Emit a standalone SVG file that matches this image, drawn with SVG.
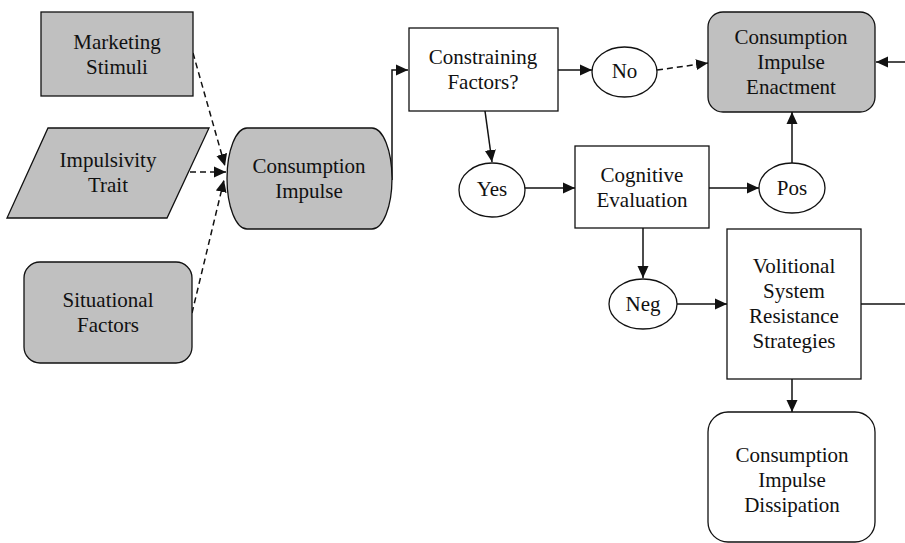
<svg xmlns="http://www.w3.org/2000/svg" width="905" height="543" viewBox="0 0 905 543" font-family="Liberation Serif, Times New Roman, Times, DejaVu Serif, serif">
<style>
text{font-family:"Liberation Serif","Times New Roman",Times,"DejaVu Serif",serif;font-size:21px;fill:#111;text-anchor:middle}
.g{fill:#c0c0c0;stroke:#111;stroke-width:1.3}
.w{fill:#fff;stroke:#111;stroke-width:1.3}
.c{fill:none;stroke:#111;stroke-width:1.5}
.d{stroke-dasharray:6,4}
</style>
<defs>
<marker id="a" markerUnits="userSpaceOnUse" markerWidth="12" markerHeight="12" refX="12" refY="6" orient="auto">
<path d="M0,0.5 L12,6 L0,11.5 Z" fill="#111"/>
</marker>
</defs>
<g id="connectors">
<path class="c d" d="M193,53 L225,166" marker-end="url(#a)"/>
<path class="c d" d="M190,172 L226,172" marker-end="url(#a)"/>
<path class="c d" d="M192,313 L224,180" marker-end="url(#a)"/>
<path class="c" d="M392,180 V70 H408" marker-end="url(#a)"/>
<path class="c" d="M558,70 H592" marker-end="url(#a)"/>
<path class="c d" d="M657,70 L708,63" marker-end="url(#a)"/>
<path class="c" d="M485,111 L492,162" marker-end="url(#a)"/>
<path class="c" d="M525,188 H575" marker-end="url(#a)"/>
<path class="c" d="M709,188 H759" marker-end="url(#a)"/>
<path class="c" d="M792,163 V112" marker-end="url(#a)"/>
<path class="c" d="M643,228 V278" marker-end="url(#a)"/>
<path class="c" d="M677,304 H727" marker-end="url(#a)"/>
<path class="c" d="M792,379 V412" marker-end="url(#a)"/>
<path class="c" d="M861,304 H905"/>
<path class="c" d="M905,62 H876" marker-end="url(#a)"/>
</g>
<g id="marketing-stimuli">
<rect class="g" x="41" y="12" width="152" height="84"/>
<text x="117" y="49">Marketing</text>
<text x="117" y="74">Stimuli</text>
</g>
<g id="impulsivity-trait">
<polygon class="g" points="48,128 209,128 167,218 7,218"/>
<text x="108" y="167">Impulsivity</text>
<text x="108" y="192">Trait</text>
</g>
<g id="situational-factors">
<rect class="g" x="24" y="262" width="168" height="101" rx="16"/>
<text x="108" y="307">Situational</text>
<text x="108" y="332">Factors</text>
</g>
<g id="consumption-impulse">
<path class="g" d="M247,128 H372 A20,50.5 0 0 1 372,229 H247 A20,50.5 0 0 1 247,128 Z"/>
<text x="309" y="173">Consumption</text>
<text x="309" y="198">Impulse</text>
</g>
<g id="constraining-factors">
<rect class="w" x="409" y="28" width="149" height="83"/>
<text x="483" y="64">Constraining</text>
<text x="483" y="89">Factors?</text>
</g>
<g id="no">
<ellipse class="w" cx="624.5" cy="72" rx="32.5" ry="25"/>
<text x="624.5" y="78">No</text>
</g>
<g id="enactment">
<rect class="g" x="708" y="12" width="167" height="100" rx="15"/>
<text x="791" y="44">Consumption</text>
<text x="791" y="69">Impulse</text>
<text x="791" y="94">Enactment</text>
</g>
<g id="yes">
<ellipse class="w" cx="492" cy="190" rx="33" ry="27"/>
<text x="492" y="196">Yes</text>
</g>
<g id="cognitive-evaluation">
<rect class="w" x="575" y="146" width="134" height="82"/>
<text x="642" y="182">Cognitive</text>
<text x="642" y="207">Evaluation</text>
</g>
<g id="pos">
<ellipse class="w" cx="792" cy="188" rx="33" ry="25"/>
<text x="792" y="195">Pos</text>
</g>
<g id="neg">
<ellipse class="w" cx="643" cy="304" rx="34" ry="25"/>
<text x="643" y="311">Neg</text>
</g>
<g id="volitional">
<rect class="w" x="727" y="229" width="134" height="150"/>
<text x="794" y="273">Volitional</text>
<text x="794" y="298">System</text>
<text x="794" y="323">Resistance</text>
<text x="794" y="348">Strategies</text>
</g>
<g id="dissipation">
<rect class="w" x="708" y="412" width="167" height="130" rx="20"/>
<text x="792" y="462">Consumption</text>
<text x="792" y="487">Impulse</text>
<text x="792" y="512">Dissipation</text>
</g>
</svg>
